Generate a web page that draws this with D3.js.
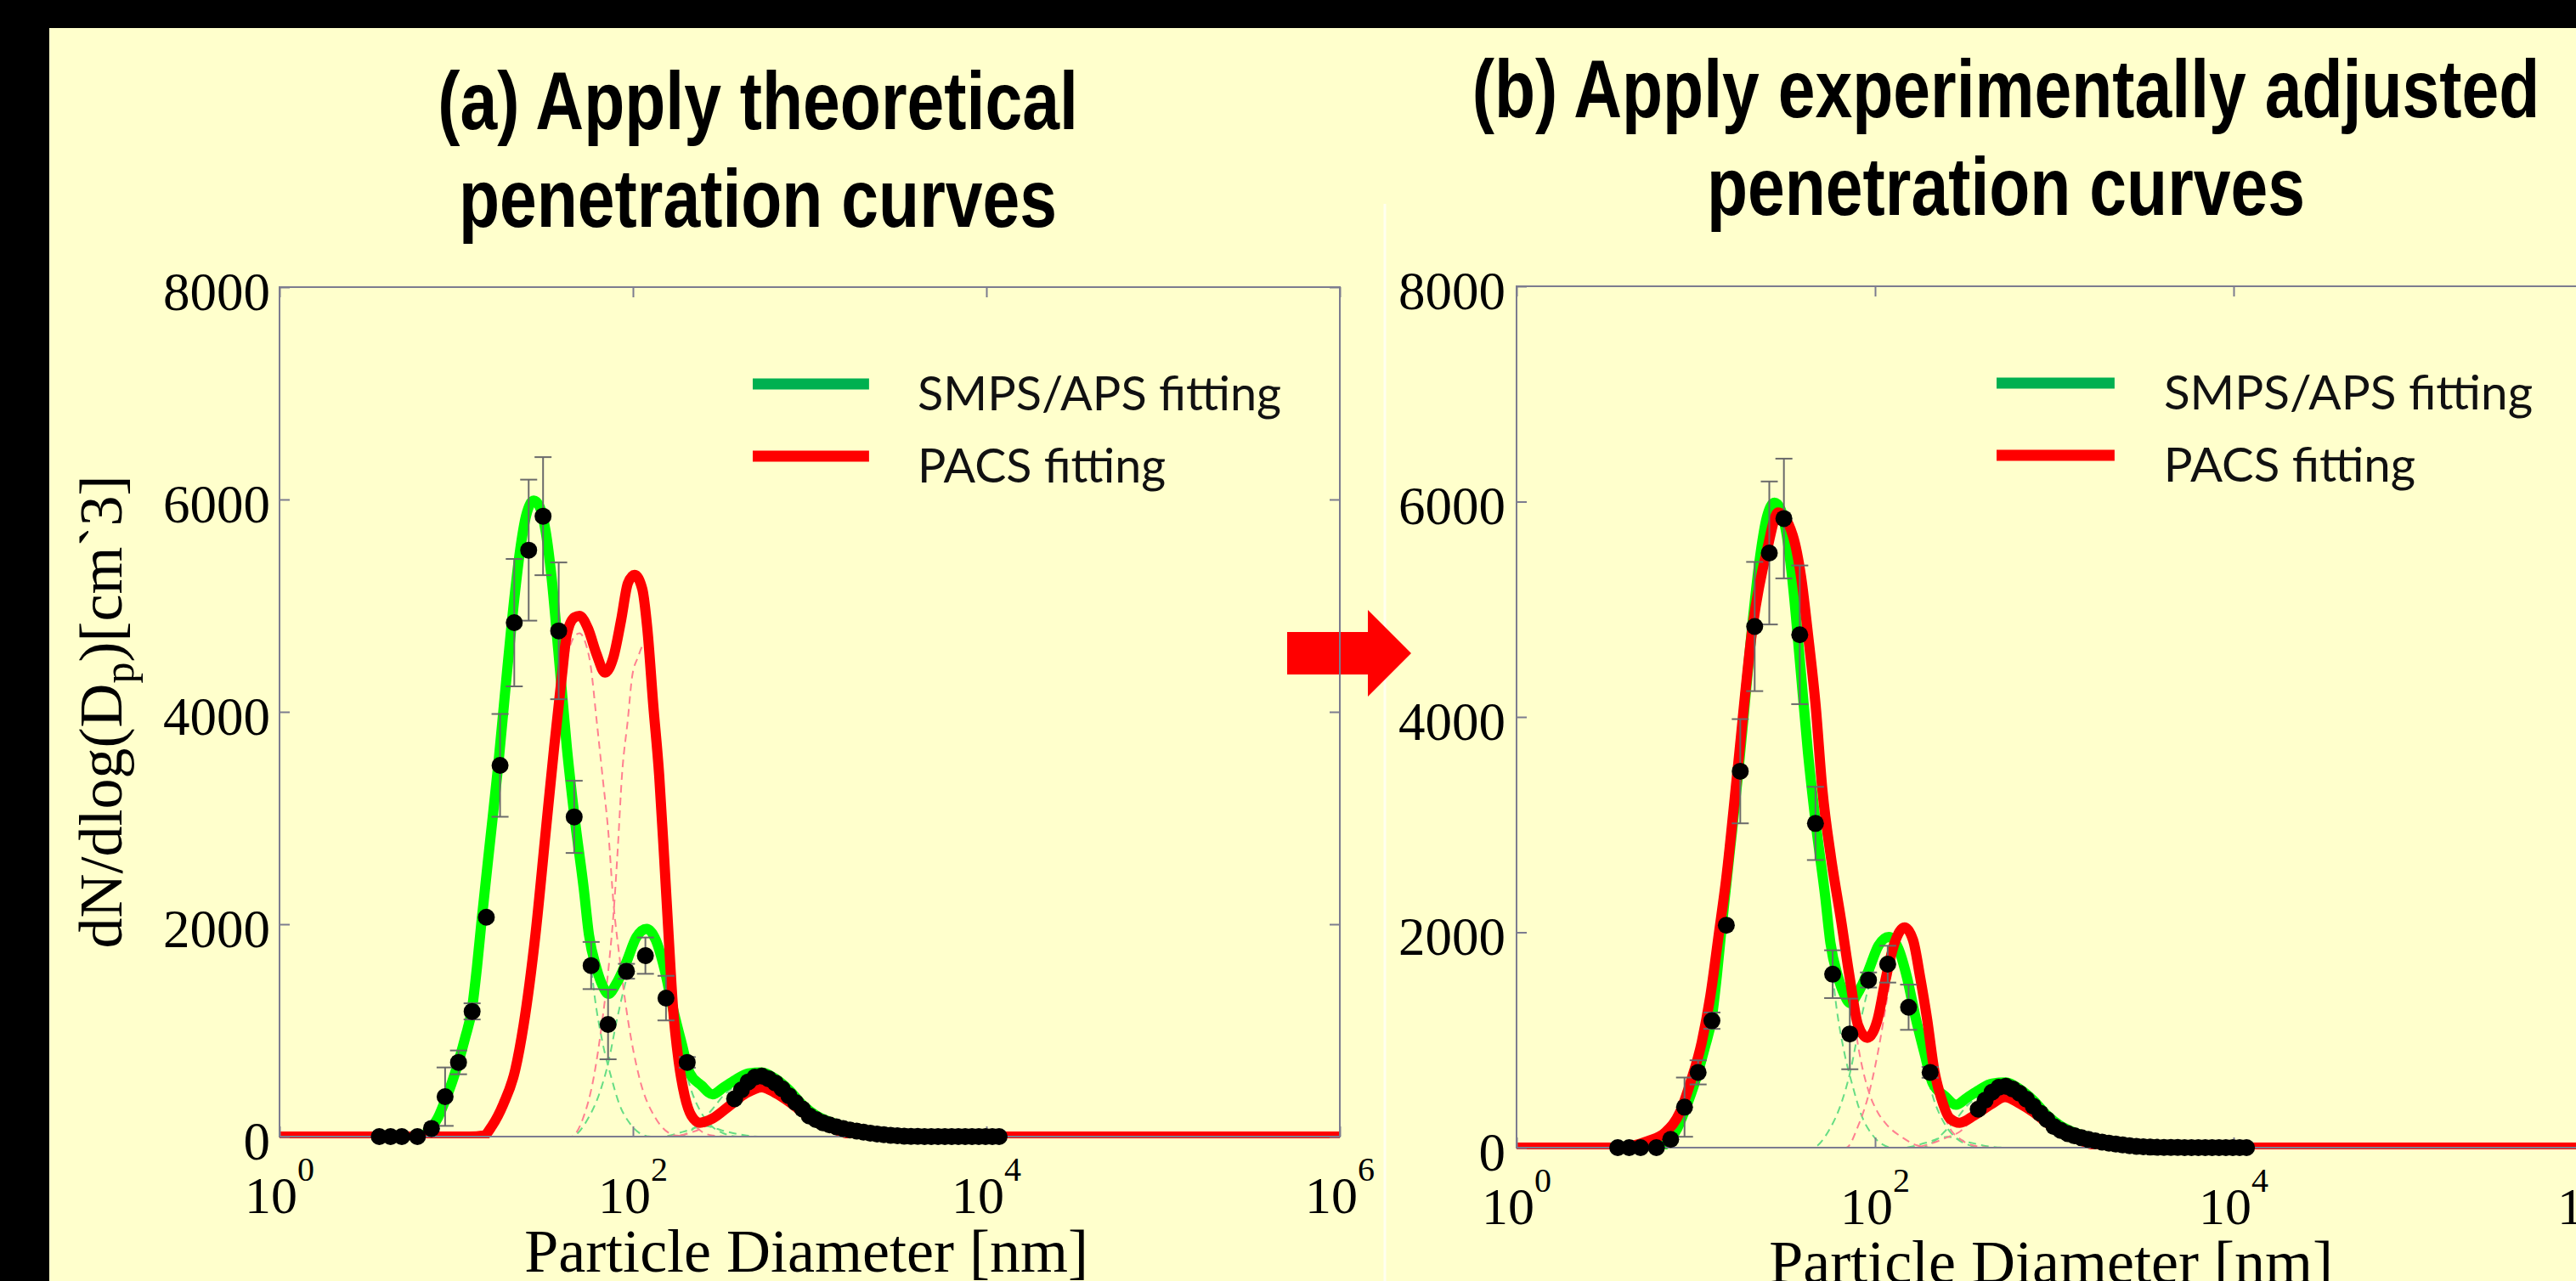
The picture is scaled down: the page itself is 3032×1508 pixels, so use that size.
<!DOCTYPE html>
<html lang="en">
<head>
<meta charset="utf-8">
<title>PACS vs SMPS/APS size distribution</title>
<script src="https://d3js.org/d3.v7.min.js"></script>
<style>
  body { margin: 0; background: #000; }
  svg { display: block; }
</style>
</head>
<body>
<svg id="chart"></svg>
<script>

// ---- data (diameter in nm, dN/dlogDp in cm^-3) ----

// SMPS measured points with error bars
const smpsDiam = [3.67, 4.25, 4.92, 6.03, 7.24, 8.65, 10.3, 12.3, 14.8, 17.7, 21.3, 25.7, 31.0, 38.0, 46.5, 58.0, 72.3, 91.9, 117.6, 153.8, 202.8];
const smpsConc = [0, 0, 0, 0, 77, 376, 699, 1179, 2066, 3496, 4840, 5523, 5843, 4763, 3011, 1611, 1056, 1557, 1704, 1304, 699];
const smpsErr  = [0, 0, 0, 0, 0, 275, 112, 76, 0, 484, 600, 664, 556, 644, 340, 222, 328, 70, 171, 210, 50];

// APS measured points
const apsDiam = [376, 411, 449, 490, 536, 585, 639, 699, 763, 834, 910, 995, 1086, 1187, 1296, 1416, 1547, 1690, 1846, 2016,
                 2203, 2406, 2628, 2871, 3136, 3426, 3742, 4088, 4466, 4878, 5329, 5821, 6359, 6946, 7588, 8289, 9055, 9890, 10804, 11802];
const apsConc = [357, 440, 515, 560, 570, 545, 505, 450, 385, 320, 260, 195, 160, 131, 110, 92, 76, 63, 52, 42,
                 33, 25, 18, 12, 8, 5, 3, 2, 1, 1, 0, 0, 0, 0, 0, 0, 0, 0, 0, 0];

// SMPS/APS fitting (same in both panels)
const greenFit = [[1,0],[5.92,0],[6.61,20],[7.22,80],[7.89,180],[8.61,330],[9.41,500],[10.28,700],[11.23,930],[12.27,1200],
  [13.11,1600],[13.85,2000],[15.47,2750],[17.28,3496],[18.87,4170],[20.62,4840],[23.02,5530],[24.87,5850],[27.47,5990],
  [29.68,5930],[32.06,5700],[34.64,5264],[37.84,4570],[42.26,3664],[46.69,3011],[52.71,2331],[56.32,1904],[62.2,1584],
  [67.2,1424],[72.6,1344],[81.1,1450],[91.5,1637],[104.5,1877],[119.3,1957],[134.7,1851],[150.5,1584],[168.1,1211],
  [187.7,891],[209.6,598],[244.6,480],[282.4,398],[326.1,464],[380.4,535],[449,595],[535.8,605],[639.3,545],[762.9,440],
  [910.4,300],[1086,200],[1296,140],[1547,100],[1846,70],[2302,40],[3206,10],[4987,0],[1e6,0]];

// SMPS/APS fit modes (dashed)
const modeG1 = [[5.92,0],[6.61,20],[7.22,80],[7.89,180],[8.61,330],[9.41,500],[10.28,700],[11.23,930],[12.27,1200],[13.11,1600],
  [13.85,2000],[15.47,2750],[17.28,3496],[18.87,4170],[20.62,4840],[23.02,5530],[24.87,5850],[27.47,5990],[29.68,5930],
  [32.06,5700],[34.64,5264],[37.84,4570],[42.26,3664],[46.69,3011],[52.71,2250],[56.32,1820],[60.17,1371],[67.2,891],
  [75.04,570],[83.81,304],[96.74,117],[108.1,37],[126.1,0],[2600,0]];
const modeG2 = [[11,0],[44.67,0],[55.7,170],[65.02,420],[72.6,700],[81.1,1100],[88.56,1380],[98.9,1680],[104.5,1800],
  [119.3,1920],[134.7,1830],[150.5,1550],[168.1,1150],[187.7,800],[209.6,480],[244.6,220],[282.4,90],[326.1,30],[393.3,0],[2600,0]];
const modeG3 = [[11,0],[145.6,0],[191.9,45],[252.9,100],[333.3,50],[439.3,10],[541.8,0],[2600,0]];
const modeG4 = [[11,0],[181.6,0],[214.2,60],[244.6,150],[282.4,260],[326.1,390],[380.4,480],[449,580],[535.8,605],[639.3,545],
  [762.9,440],[910.4,300],[1086,200],[1296,138],[1547,98],[1846,68],[2302,38],[3206,10],[4987,0]];

// PACS fitting, theoretical penetration curves (a)
const redTheo = [[1,0],[11.87,0],[14.32,10],[15.99,104],[18.46,304],[21.54,624],[24.06,1051],[28.08,1904],[32.06,2864],
  [35.81,3664],[39.55,4330],[42.26,4730],[46.69,4890],[49.87,4904],[55.7,4784],[62.2,4544],[69.47,4370],[77.58,4517],
  [85.7,4864],[93.59,5211],[102.2,5291],[112.9,5157],[120.6,4784],[130.3,4064],[140.8,3398],[150.5,2598],[159,1904],
  [168.1,1238],[181.6,704],[196.2,384],[214.2,197],[239.3,131],[282.4,171],[352.3,291],[439.3,411],[535.8,465],[639.3,411],
  [762.9,330],[910.4,230],[1086,150],[1296,90],[1547,40],[1846,10],[2571,0],[1e6,0]];
const modeR1a = [[11,0],[11.87,0],[14.32,10],[15.99,100],[18.46,300],[21.54,620],[24.06,1040],[28.08,1890],[32.06,2830],
  [35.81,3600],[39.55,4200],[42.26,4500],[46.17,4700],[49.87,4740],[53.87,4650],[57.56,4440],[62.2,3930],[67.2,3400],
  [72.6,2860],[77.58,2200],[83.81,1700],[93.59,1104],[108.1,570],[134.7,170],[175.7,10],[226.4,0],[2600,0]];
const modeR2a = [[11,0],[44.67,0],[52.12,170],[60.17,570],[67.2,1104],[73.4,1650],[78.44,2200],[81.98,2700],[86.63,3398],
  [93.59,3930],[98.9,4330],[106.9,4517],[114.2,4620],[122,4500],[130.3,3900],[140.8,3320],[150.5,2560],[159,1900],
  [168.1,1238],[181.6,650],[196.2,340],[214.2,150],[239.3,60],[282.4,10],[352.3,0],[2600,0]];
const modeR3a = [[11,0],[145.6,0],[181.6,10],[214.2,40],[252.9,90],[315.4,225],[393.3,340],[464.2,420],[535.8,465],[639.3,411],
  [762.9,330],[910.4,230],[1086,150],[1296,90],[1547,40],[1846,10],[2571,0]];

// PACS fitting, experimentally adjusted penetration curves (b)
const redAdj = [[1,0],[3.51,0],[5.43,63],[6.75,142],[8.13,323],[9.37,613],[10.8,981],[12.04,1402],[13.43,1980],[14.81,2509],
  [17.07,3493],[20.78,4847],[25.01,5557],[28.83,5900],[34.7,5688],[38.7,5294],[42.23,4768],[46.58,4110],[50.83,3321],
  [56.7,2700],[64.62,2112],[72.09,1586],[80.36,1138],[90.64,1020],[103.3,1191],[115.2,1586],[128.5,1901],[146,2046],
  [162.9,1927],[178.3,1586],[195.2,1191],[213.9,718],[234.3,455],[261.3,271],[296.9,231],[355.8,297],[442.6,402],[531,470],
  [639.3,411],[762.9,330],[910.4,230],[1086,150],[1296,90],[1547,40],[1846,10],[2571,0],[1e6,0]];
const modeR1b = [[3.51,0],[5.43,63],[6.75,142],[8.13,323],[9.37,613],[10.8,981],[12.04,1402],[13.43,1980],[14.81,2509],
  [17.07,3493],[20.78,4847],[25.01,5557],[28.83,5900],[34.7,5688],[38.7,5294],[42.23,4768],[46.58,4110],[50.83,3321],
  [56.7,2700],[64.62,2100],[72.09,1530],[80.36,950],[92.64,510],[103.3,330],[115.2,220],[143.4,90],[172.6,20],[210.1,0],[2600,0]];
const modeR2b = [[11,0],[69.02,0],[80.36,200],[92.64,510],[106.8,1000],[115.2,1330],[128.5,1780],[146.5,2000],[163.4,1900],
  [178.3,1560],[194.6,1150],[214.7,660],[234.3,380],[261.3,180],[297.9,80],[354.6,20],[450.8,0],[2600,0]];
const modeR3b = [[11,0],[159.9,0],[198.9,30],[247.4,90],[297.9,150],[354.6,270],[441.1,390],[531,465],[639.3,411],
  [762.9,330],[910.4,230],[1086,150],[1296,90],[1547,40],[1846,10],[2571,0]];

// axes
const xTicks = [1, 100, 1e4, 1e6];
const xTickExp = ["0", "2", "4", "6"];
const yTicks = [0, 2000, 4000, 6000, 8000];
const legendLabels = ["SMPS/APS fitting", "PACS fitting"];

// ---- layout ----
const W = 3032, H = 1508;
const serif = "'Liberation Serif', 'Times New Roman', serif";
const axisColor = "#7c7c8f";

const panels = [
  {title: ["(a) Apply theoretical", "penetration curves"], titleX: 892, titleY: [152, 267],
   left: 329, top: 338, width: 1248, height: 1000, yPad: 11,
   red: redTheo, redModes: [modeR1a, modeR2a, modeR3a], yLabel: true},
  {title: ["(b) Apply experimentally adjusted", "penetration curves"], titleX: 2361, titleY: [138, 253],
   left: 1785, top: 337, width: 1266, height: 1014, yPad: 13,
   red: redAdj, redModes: [modeR1b, modeR2b, modeR3b], yLabel: false}
];

const svg = d3.select("#chart")
    .attr("width", W)
    .attr("height", H);

svg.append("rect")
    .attr("width", W).attr("height", H)
    .attr("fill", "#000");

svg.append("rect")
    .attr("x", 58).attr("y", 33)
    .attr("width", W - 58).attr("height", H - 33)
    .attr("fill", "#ffffcc");

// faint edge of the pasted second figure
svg.append("line")
    .attr("x1", 1630).attr("x2", 1630)
    .attr("y1", 240).attr("y2", H)
    .attr("stroke", "#fffff0")
    .attr("stroke-width", 3);

// arrow between panels
svg.append("path")
    .attr("d", "M1515,744H1610V718L1661,769L1610,820V794H1515Z")
    .attr("fill", "#ff0000");

const measured = smpsDiam.map((d, i) => [d, smpsConc[i]])
    .concat(apsDiam.map((d, i) => [d, apsConc[i]]));

function drawPanel(p, i) {
  const x = d3.scaleLog().domain([1, 1e6]).range([p.left, p.left + p.width]);
  const y = d3.scaleLinear().domain([0, 8000]).range([p.top + p.height, p.top]);
  const g = svg.append("g");

  // titles
  p.title.forEach((t, k) => {
    g.append("g")
        .attr("transform", `translate(${p.titleX},0) scale(0.82,1)`)
      .append("text")
        .attr("x", 0).attr("y", p.titleY[k])
        .attr("text-anchor", "middle")
        .attr("font-family", "'Liberation Sans', Arial, sans-serif")
        .attr("font-weight", "bold")
        .attr("font-size", 96)
        .text(t);
  });

  g.append("clipPath").attr("id", "clip" + i)
    .append("rect")
      .attr("x", p.left).attr("y", p.top)
      .attr("width", p.width).attr("height", p.height + 2);

  const line = d3.line()
      .x(d => x(d[0]))
      .y(d => y(d[1]))
      .curve(d3.curveMonotoneX);

  const plot = g.append("g").attr("clip-path", `url(#clip${i})`);

  plot.selectAll(".gmode")
    .data([modeG1, modeG2, modeG3, modeG4])
    .join("path")
      .attr("class", "gmode")
      .attr("d", line)
      .attr("fill", "none")
      .attr("stroke", "#66dd84")
      .attr("stroke-width", 2)
      .attr("stroke-dasharray", "9 6");

  plot.selectAll(".rmode")
    .data(p.redModes)
    .join("path")
      .attr("class", "rmode")
      .attr("d", line)
      .attr("fill", "none")
      .attr("stroke", "#ff8090")
      .attr("stroke-width", 2)
      .attr("stroke-dasharray", "9 6");

  plot.append("path")
      .datum(greenFit)
      .attr("d", line)
      .attr("fill", "none")
      .attr("stroke", "#00ff00")
      .attr("stroke-width", 12)
      .attr("stroke-linejoin", "round");

  plot.append("path")
      .datum(p.red)
      .attr("d", line)
      .attr("fill", "none")
      .attr("stroke", "#ff0000")
      .attr("stroke-width", 12)
      .attr("stroke-linejoin", "round");

  // box and inward ticks
  g.append("rect")
      .attr("x", p.left).attr("y", p.top)
      .attr("width", p.width).attr("height", p.height)
      .attr("fill", "none")
      .attr("stroke", axisColor)
      .attr("stroke-width", 2);

  const yl = g.append("g")
      .attr("transform", `translate(${p.left},0)`)
      .call(d3.axisLeft(y).tickValues(yTicks).tickSize(-12).tickPadding(p.yPad).tickFormat(d3.format("d")));
  const yr = g.append("g")
      .attr("transform", `translate(${p.left + p.width},0)`)
      .call(d3.axisRight(y).tickValues(yTicks).tickSize(-12).tickFormat(""));
  const xb = g.append("g")
      .attr("transform", `translate(0,${p.top + p.height})`)
      .call(d3.axisBottom(x).tickValues(xTicks).tickSize(-12).tickFormat(""));
  const xt = g.append("g")
      .attr("transform", `translate(0,${p.top})`)
      .call(d3.axisTop(x).tickValues(xTicks).tickSize(-12).tickFormat(""));

  [yl, yr, xb, xt].forEach(a => {
    a.select(".domain").remove();
    a.selectAll("line").attr("stroke", axisColor).attr("stroke-width", 2);
  });

  yl.selectAll("text")
      .attr("font-family", serif)
      .attr("font-size", 63)
      .attr("fill", "#000")
      .attr("dy", "0.42em");

  xTicks.forEach((t, k) => {
    const lab = g.append("text")
        .attr("x", x(t))
        .attr("y", p.top + p.height + 90)
        .attr("text-anchor", "middle")
        .attr("font-family", serif)
        .attr("font-size", 62);
    lab.append("tspan").text("10");
    lab.append("tspan").attr("font-size", 40).attr("dy", -38).text(xTickExp[k]);
  });

  g.append("text")
      .attr("x", p.left + p.width / 2 - 4)
      .attr("y", p.top + p.height + 159)
      .attr("text-anchor", "middle")
      .attr("font-family", serif)
      .attr("font-size", 72)
      .text("Particle Diameter [nm]");

  if (p.yLabel) {
    const yt = g.append("text")
        .attr("transform", `translate(143,${p.top + p.height / 2}) rotate(-90)`)
        .attr("text-anchor", "middle")
        .attr("font-family", serif)
        .attr("font-size", 72);
    yt.append("tspan").text("dN/dlog(D");
    yt.append("tspan").attr("font-size", 50).attr("dy", 14).text("p");
    yt.append("tspan").attr("dy", -14).text(")[cm`3]");
  }

  // error bars
  const eb = g.append("g")
      .attr("stroke", "#6a6a6a")
      .attr("stroke-width", 2);
  smpsDiam.forEach((d, k) => {
    if (smpsErr[k] <= 0) return;
    const cx = x(d), y1 = y(smpsConc[k] + smpsErr[k]), y2 = y(smpsConc[k] - smpsErr[k]);
    eb.append("line").attr("x1", cx).attr("x2", cx).attr("y1", y1).attr("y2", y2);
    eb.append("line").attr("x1", cx - 10).attr("x2", cx + 10).attr("y1", y1).attr("y2", y1);
    eb.append("line").attr("x1", cx - 10).attr("x2", cx + 10).attr("y1", y2).attr("y2", y2);
  });

  g.append("g")
    .selectAll("circle")
    .data(measured)
    .join("circle")
      .attr("cx", d => x(d[0]))
      .attr("cy", d => y(d[1]))
      .attr("r", 10)
      .attr("fill", "#000");

  // legend
  const legColors = ["#00b050", "#ff0000"];
  const legWidths = [0.343, 0.234];
  legendLabels.forEach((lab, k) => {
    const ly = p.top + 114 + k * 85;
    g.append("line")
        .attr("x1", p.left + 0.4463 * p.width)
        .attr("x2", p.left + 0.556 * p.width)
        .attr("y1", ly).attr("y2", ly)
        .attr("stroke", legColors[k])
        .attr("stroke-width", 13);
    g.append("text")
        .attr("x", p.left + 0.6018 * p.width)
        .attr("y", ly + 31)
        .attr("font-family", "Lato, 'Open Sans', sans-serif")
        .attr("font-size", 56)
        .attr("fill", "#111")
        .attr("textLength", legWidths[k] * p.width)
        .attr("lengthAdjust", "spacingAndGlyphs")
        .text(lab);
  });
}

panels.forEach(drawPanel);

</script>
</body>
</html>
